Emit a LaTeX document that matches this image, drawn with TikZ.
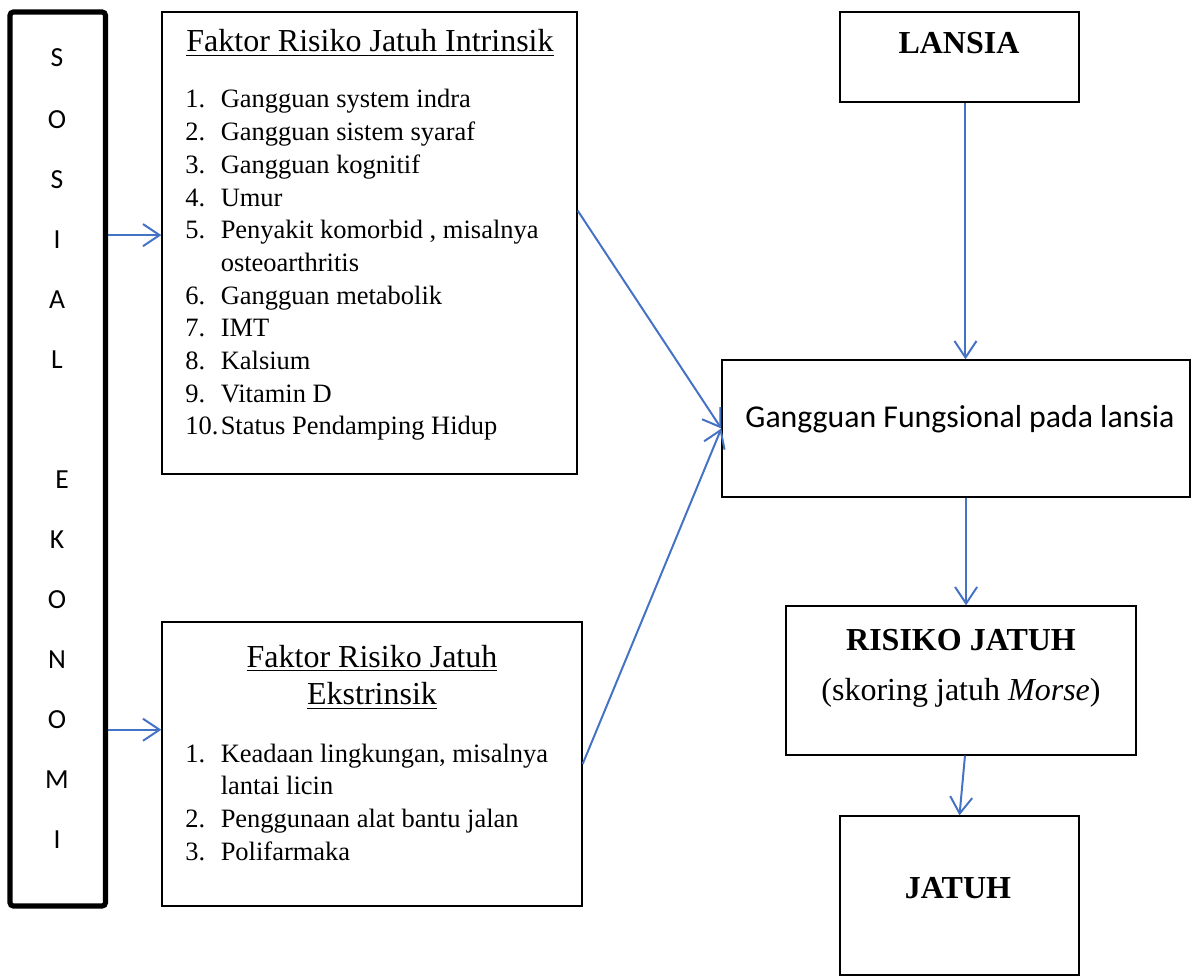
\documentclass[tikz,border=0pt]{standalone}
\usepackage{fontspec}
\setmainfont{Liberation Serif}
\newfontfamily\calibri{Carlito}
\usetikzlibrary{arrows.meta,fit,calc}
\definecolor{arrblue}{RGB}{68,114,196}

\begin{document}
\begin{tikzpicture}[x=0.453pt, y=-0.453pt,
  box/.style = {draw, line width=0.6pt, inner sep=0pt},
  arr/.style = {arrblue, line width=0.9pt, -{Straight Barb[length=7.5pt,width=10pt]}},
  txt/.style = {font=\fontsize{12}{14.8}\selectfont, inner sep=0pt},
  hd/.style = {font=\fontsize{14.5}{17.2}\selectfont, inner sep=0pt},
  hdb/.style = {font=\fontsize{14.5}{17.2}\selectfont\bfseries, inner sep=0pt},
  vert/.style = {font=\calibri\fontsize{12.5}{14}\selectfont, inner sep=0pt}]
\useasboundingbox (0,0) rectangle (1192,978);

% boxes
\node[box, line width=2.3pt, rounded corners=1.5pt, fit={(10,12) (105.5,906)}] (se) {};
\node[box, fit={(162,12) (577,474)}] (intr) {};
\node[box, fit={(162,622) (582,906)}] (ekst) {};
\node[box, fit={(840,12) (1079,102)}] (lansia) {};
\node[box, fit={(722,360) (1190,497)}] (gf) {};
\node[box, fit={(786,606) (1136,755)}] (risiko) {};
\node[box, fit={(840,816) (1079,975)}] (jatuh) {};

% sosial ekonomi
\node[vert] (s1)  at (57,58)  {S};
\node[vert] (s2)  at (57,120) {O};
\node[vert] (s3)  at (57,180) {S};
\node[vert] (s4)  at (57,240) {I};
\node[vert] (s5)  at (57,300) {A};
\node[vert] (s6)  at (57,360) {L};
\node[vert] (s7)  at (62,480) {E};
\node[vert] (s8)  at (57,540) {K};
\node[vert] (s9)  at (57,600) {O};
\node[vert] (s10) at (57,660) {N};
\node[vert] (s11) at (57,720) {O};
\node[vert] (s12) at (57,780) {M};
\node[vert] (s13) at (57,840) {I};

% faktor intrinsik
\node[hd, anchor=base] (intrtitle) at (370,52) {\underline{Faktor Risiko Jatuh Intrinsik}};
\node[txt, anchor=base west] (intrlist) at (185,108) {\begin{tabular}[t]{@{}p{16pt}@{}l@{}}
1. & Gangguan system indra\\
2. & Gangguan sistem syaraf\\
3. & Gangguan kognitif\\
4. & Umur\\
5. & Penyakit komorbid , misalnya\\
   & osteoarthritis\\
6. & Gangguan metabolik\\
7. & IMT\\
8. & Kalsium\\
9. & Vitamin D\\
10. & Status Pendamping Hidup
\end{tabular}};

% faktor ekstrinsik
\node[hd, anchor=base] (ekstitle) at (372,667) {\begin{tabular}[t]{@{}c@{}}
\underline{Faktor Risiko Jatuh}\\
\underline{Ekstrinsik}
\end{tabular}};
\node[txt, anchor=base west] (ekstlist) at (185,762) {\begin{tabular}[t]{@{}p{16pt}@{}l@{}}
1. & Keadaan lingkungan, misalnya\\
   & lantai licin\\
2. & Penggunaan alat bantu jalan\\
3. & Polifarmaka
\end{tabular}};

% right column
\node[hdb, anchor=base] (lansiatext) at (959,54) {LANSIA};
\node[inner sep=0pt, font=\calibri\fontsize{14.4}{17}\selectfont, anchor=base west] (gftext) at (745,427) {Gangguan Fungsional pada lansia};
\node[hdb, anchor=base] (risikotext) at (961,650) {RISIKO JATUH};
\node[hd, anchor=base] (morse) at (961,700) {(skoring jatuh \textit{Morse})};
\node[hdb, anchor=base] (jatuhtext) at (958,898) {JATUH};

% arrows
\coordinate (iin) at ($(intr.north west)!0.483!(intr.south west)$);
\coordinate (ein) at ($(ekst.north west)!0.38!(ekst.south west)$);
\coordinate (iout) at ($(intr.north east)!0.43!(intr.south east)$);
\draw[arr] (se.east |- iin) -- (iin);
\draw[arr] (se.east |- ein) -- (ein);
\draw[arr] (iout) -- (gf.west);
\draw[arr] (ekst.east) -- (gf.west);
\draw[arr] ([xshift=2.7pt]lansia.south) -- ([xshift=2.7pt]lansia.south |- gf.north);
\draw[arr] ([xshift=2.3pt]risiko.north |- gf.south) -- ([xshift=2.3pt]risiko.north);
\draw[arr] ([xshift=1.8pt]risiko.south) -- (jatuh.north);
\end{tikzpicture}
\end{document}
